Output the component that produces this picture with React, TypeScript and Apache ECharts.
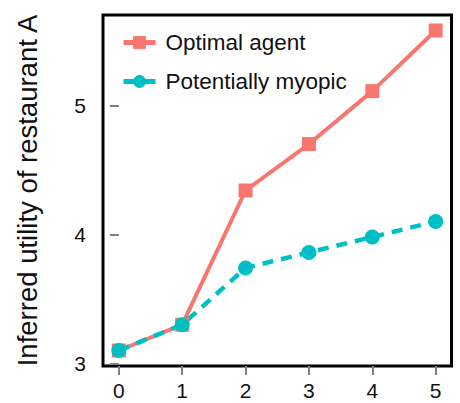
import React, { useEffect, useRef } from "react";
import * as echarts from "echarts";

const steps = [0, 1, 2, 3, 4, 5];
const optimalAgent = [3.1, 3.3, 4.34, 4.7, 5.11, 5.58];
const potentiallyMyopic = [3.1, 3.3, 3.74, 3.86, 3.98, 4.1];
const yTicks = [3, 4, 5];
const xTicks = [0, 1, 2, 3, 4, 5];

const FONT = "Liberation Sans, Arial, Helvetica, sans-serif";

export default function App() {
  const ref = useRef<HTMLDivElement>(null);
  useEffect(() => {
    if (!ref.current) return;
    const chart = echarts.init(ref.current, undefined, { renderer: "svg" });
    chart.setOption({
      animation: false,
      backgroundColor: "#fff",
      grid: {
        left: 103,
        right: 8.5,
        top: 15,
        bottom: 37,
        show: true,
        borderColor: "#000",
        borderWidth: 3,
        backgroundColor: "transparent",
      },
      legend: {
        orient: "vertical",
        left: 116,
        top: 26,
        itemWidth: 32,
        itemHeight: 16,
        itemGap: 16,
        lineStyle: { type: "solid", width: 5 },
        textStyle: { fontFamily: FONT, fontSize: 22.5, color: "#111", padding: [0, 0, 0, 5] },
        data: ["Optimal agent", "Potentially myopic"],
      },
      xAxis: {
        type: "value",
        min: -0.25,
        max: 5.25,
        splitLine: { show: false },
        axisLine: { show: false },
        axisTick: { show: true, inside: false, length: 9, lineStyle: { color: "#7f7f7f", width: 2 }, customValues: xTicks },
        axisLabel: { fontFamily: FONT, fontSize: 21, color: "#111", margin: 14, customValues: xTicks },
      },
      yAxis: {
        type: "value",
        min: 2.98,
        max: 5.7,
        name: "Inferred utility of restaurant A",
        nameLocation: "middle",
        nameRotate: 90,
        nameGap: 62,
        nameTextStyle: { fontFamily: FONT, fontSize: 27.5, color: "#111" },
        splitLine: { show: false },
        axisLine: { show: false },
        axisTick: { show: true, inside: false, length: 9, lineStyle: { color: "#7f7f7f", width: 2 }, customValues: yTicks },
        axisLabel: { fontFamily: FONT, fontSize: 21, color: "#111", margin: 17, customValues: yTicks },
      },
      series: [
        {
          name: "Optimal agent",
          type: "line",
          data: steps.map((s, i) => [s, optimalAgent[i]]),
          symbol: "rect",
          symbolSize: 14,
          color: "#F8766D",
          lineStyle: { width: 4, color: "#F8766D" },
          itemStyle: { color: "#F8766D" },
        },
        {
          name: "Potentially myopic",
          type: "line",
          data: steps.map((s, i) => [s, potentiallyMyopic[i]]),
          symbol: "circle",
          symbolSize: 15,
          color: "#00BFC4",
          lineStyle: { width: 4.5, color: "#00BFC4", type: [11, 8] },
          itemStyle: { color: "#00BFC4" },
        },
      ],
    });
    return () => chart.dispose();
  }, []);
  return <div ref={ref} style={{ width: 460, height: 403, position: "absolute", left: 0, top: 0 }} />;
}
